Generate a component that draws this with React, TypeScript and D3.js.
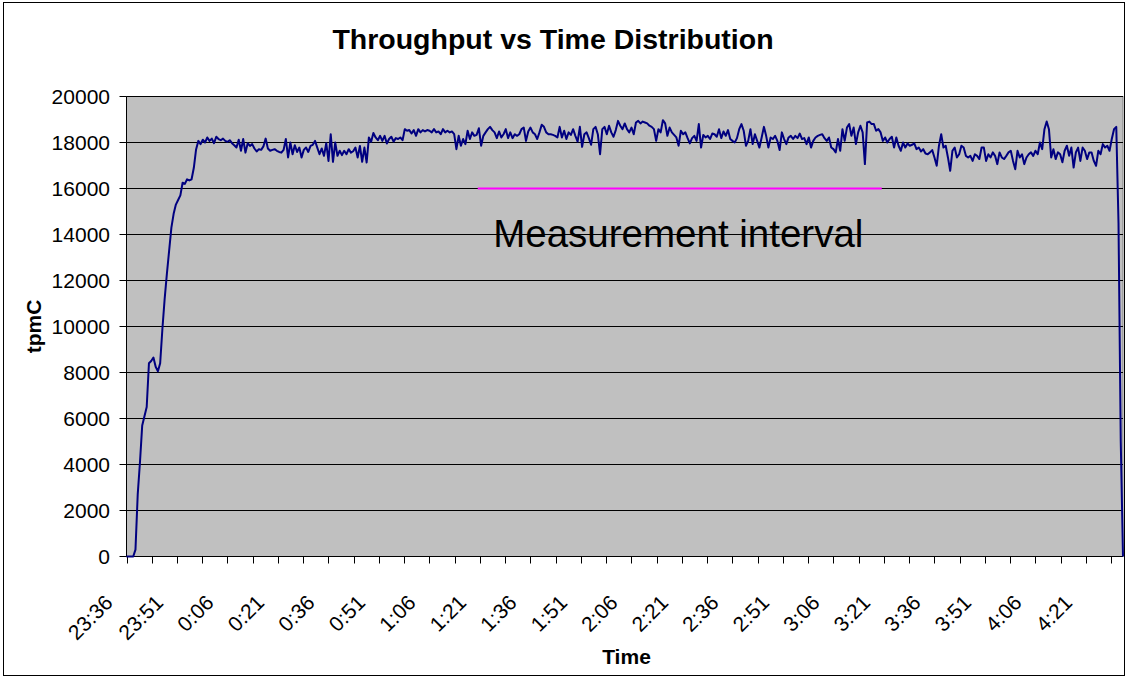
import React from 'react';
import * as d3 from 'd3';

const WIDTH = 1125;
const HEIGHT = 678;
const PLOT = { left: 126.5, right: 1123, top: 96.5, bottom: 556.5 };
const FONT = '"Liberation Sans", Arial, sans-serif';

// log starts at 23:36, one sample every 40 s
const START = new Date(2000, 0, 1, 23, 36, 0);
const STEP_MS = 40 * 1000;
const SPAN_MIN = 296;

// ramp-up
const warmup = [
  0, 0, 0, 0, 300, 2700, 4100, 5700, 6100, 6500, 8400, 8500, 8650, 8250, 8050, 8400,
  9900, 11200, 12300, 13300, 14300, 14900, 15300, 15500, 15700, 16250, 16200, 16400,
  16350, 16400, 16900, 17700,
];

// 23:57 - 0:50
const run1 = [
  18070, 17930, 18120, 18000, 18220, 18070, 18170, 17970, 18250, 18150, 18100,
  18170, 18070, 18030, 18100, 17970, 17880, 17780, 18120, 17640, 18150,
  17560, 17970, 17850, 17930, 17740, 17610, 17710, 17680, 17830, 18170, 17740,
  17640, 17680, 17710, 17640, 17590, 17560, 17680, 18150, 17350, 18000,
  17490, 17880, 17590, 17780, 17350, 17680, 17780, 17590, 17850, 17900, 18070,
  17780, 17490, 17740, 17420, 17970, 17200, 18360, 17160, 18000, 17420,
  17640, 17450, 17640, 17490, 17710, 17560, 17620, 17780, 17350, 17850, 17160,
  17780, 17130, 18220, 18030, 18410,
];

// 0:50 - 2:04
const run2 = [
  18220, 18100, 18290, 18070, 18290, 17960, 18150, 18250, 18040, 18190,
  18150, 18220, 18100, 18580, 18510, 18540, 18390, 18540, 18290, 18580,
  18440, 18540, 18480, 18540, 18510, 18440, 18580, 18440, 18480, 18360,
  18580, 18440, 18510, 18440, 18480, 18360, 17710, 18290, 17860, 18150,
  17930, 18510, 18150, 18440, 18290, 18330, 18620, 17860, 18290, 18440,
  18580, 18680, 18540, 18440, 18190, 18480, 18220, 18360, 18580, 18190,
  18440, 18190, 18360, 18290, 18360, 18580, 18650, 18070, 18480, 18650,
  18440, 18360, 18150, 18440, 18770, 18680, 18440, 18360, 18360, 18330,
  18290, 18220, 18680, 18220, 18510, 18150, 18440, 18330, 18580, 18290,
  18040, 18680, 17810, 18360, 18440, 18190, 17900, 18580, 18680, 18360,
  17490, 18580, 18680, 18360, 18730, 18440, 18250, 18540, 18940, 18730,
  18580, 18830,
];

// 2:04 - 3:18
const run3 = [
  18580, 18440, 18650, 18360, 18870, 18940, 18830, 18910, 18870, 18830,
  18730, 18680, 18580, 18070, 18580, 18440, 18970, 18830, 18290, 18650,
  18440, 18330, 18220, 17860, 18510, 18360, 18440, 18190, 17960, 18190,
  18290, 18070, 18800, 17780, 18330, 18220, 18290, 18150, 18390, 18360,
  18250, 18580, 18190, 18480, 18290, 18540, 18150, 18070, 18000, 18190,
  18580, 18800, 18510, 17860, 18070, 18580, 17930, 18360, 18070, 17780,
  18220, 18680, 18290, 17780, 18220, 18150, 18290, 18070, 17670, 18440,
  18150, 17930, 18220, 18290, 18150, 18290, 18190, 18390, 18150, 18190,
  17930, 18220, 17780, 18070, 18220, 18290, 18330, 18360, 18190, 18070,
  18220, 17780, 17710, 17570, 18150, 17640, 18580, 18070, 18650, 18800,
  18290, 18650, 17930, 18440, 18730, 18440, 17060, 18870, 18910, 18800,
  18800,
];

// 3:18 - end of run
const run4 = [
  18510, 18580, 18440, 18070, 18220, 18000, 18150, 18250, 17780, 18220,
  17860, 17640, 18000, 17780, 17960, 17860, 17900, 17960, 17710, 17780,
  17610, 17710, 17520, 17490, 17570, 17670, 17350, 16990, 17860, 18360,
  17780, 17860, 17350, 16770, 17640, 17780, 17350, 17490, 17860, 17780,
  17420, 17350, 17420, 17200, 17490, 17420, 17280, 17780, 17780, 17200,
  17490, 17350, 17570, 17420, 17060, 17570, 17350, 17280, 17420, 17570,
  17640, 17200, 16840, 17640, 17350, 17490, 17060, 17350, 17490, 17570,
  17420, 17640, 17490, 18000, 17710, 18580, 18910, 18580, 17350, 17710,
  17280, 17570, 17490, 17140, 17640, 17860, 17420, 17780, 16910, 17570,
  17780, 17200, 17780, 17640, 17280, 17570, 17570, 17200, 16990, 17640,
  17490, 17930, 17780, 17860, 17640, 18150, 18580, 18680, 14500, 5000, 0,
];

const tpmC = [...warmup, ...run1, ...run2, ...run3, ...run4];

const timeLabels = [
  '23:36', '23:51', '0:06', '0:21', '0:36', '0:51', '1:06', '1:21', '1:36', '1:51',
  '2:06', '2:21', '2:36', '2:51', '3:06', '3:21', '3:36', '3:51', '4:06', '4:21',
];
const yTickValues = [0, 2000, 4000, 6000, 8000, 10000, 12000, 14000, 16000, 18000, 20000];

// measurement interval marker
const measureStart = new Date(2000, 0, 2, 1, 20, 20);
const measureEnd = new Date(2000, 0, 2, 3, 20, 20);
const measureLevel = 16000;

const addMin = (d: Date, m: number) => new Date(d.getTime() + m * 60000);

export default function App() {
  const x = d3
    .scaleTime()
    .domain([START, addMin(START, SPAN_MIN)])
    .range([PLOT.left, PLOT.right]);
  const y = d3.scaleLinear().domain([0, 20000]).range([PLOT.bottom, PLOT.top]);

  const line = d3
    .line<number>()
    .x((_, i) => x(new Date(START.getTime() + i * STEP_MS)))
    .y((d) => y(d));

  // tick marks every 7.5 min, labels every 15 min
  const tickDates = d3.range(0, 40).map((k) => addMin(START, k * 7.5));
  const labelDates = timeLabels.map((_, j) => addMin(START, j * 15));

  return (
    <svg
      width={WIDTH}
      height={HEIGHT}
      style={{ position: 'absolute', left: 0, top: 0, background: '#fff' }}
      fontFamily={FONT}
    >
      <rect x={3.5} y={2.5} width={1121} height={673} fill="#fff" stroke="#000" />

      <text x={553} y={49} textAnchor="middle" fontSize={28.5} fontWeight="bold">
        Throughput vs Time Distribution
      </text>

      <rect
        x={PLOT.left}
        y={PLOT.top}
        width={PLOT.right - PLOT.left}
        height={PLOT.bottom - PLOT.top}
        fill="#c0c0c0"
        stroke="#808080"
      />

      {yTickValues.map((v) => (
        <g key={v}>
          <line x1={PLOT.left} x2={PLOT.right} y1={y(v)} y2={y(v)} stroke="#000" />
          <line x1={PLOT.left - 7} x2={PLOT.left} y1={y(v)} y2={y(v)} stroke="#000" />
          <text x={110} y={y(v)} dy="0.35em" textAnchor="end" fontSize={21}>
            {v}
          </text>
        </g>
      ))}

      <line x1={PLOT.left} x2={PLOT.left} y1={PLOT.top} y2={PLOT.bottom} stroke="#000" />
      <line x1={PLOT.left} x2={PLOT.right} y1={PLOT.bottom} y2={PLOT.bottom} stroke="#000" />

      {tickDates.map((d, k) => (
        <line
          key={k}
          x1={Math.round(x(d)) + 0.5}
          x2={Math.round(x(d)) + 0.5}
          y1={PLOT.bottom}
          y2={PLOT.bottom + 7}
          stroke="#000"
        />
      ))}

      {labelDates.map((d, j) => {
        const ax = x(d) - 12.5;
        const ay = 604;
        return (
          <text
            key={timeLabels[j]}
            x={ax}
            y={ay}
            textAnchor="end"
            fontSize={21}
            transform={`rotate(-45 ${ax} ${ay})`}
          >
            {timeLabels[j]}
          </text>
        );
      })}

      <line
        x1={x(measureStart)}
        x2={x(measureEnd)}
        y1={y(measureLevel)}
        y2={y(measureLevel)}
        stroke="#ff00ff"
        strokeWidth={2}
      />

      <path d={line(tpmC) ?? ''} fill="none" stroke="#000080" strokeWidth={2} strokeLinejoin="round" />

      <text x={x(addMin(measureStart, 4.6))} y={y(13450)} fontSize={38.5}>
        Measurement interval
      </text>

      <text
        x={41}
        y={326.5}
        textAnchor="middle"
        fontSize={21}
        fontWeight="bold"
        transform="rotate(-90 41 326.5)"
      >
        tpmC
      </text>
      <text x={626.5} y={664} textAnchor="middle" fontSize={21} fontWeight="bold">
        Time
      </text>
    </svg>
  );
}
